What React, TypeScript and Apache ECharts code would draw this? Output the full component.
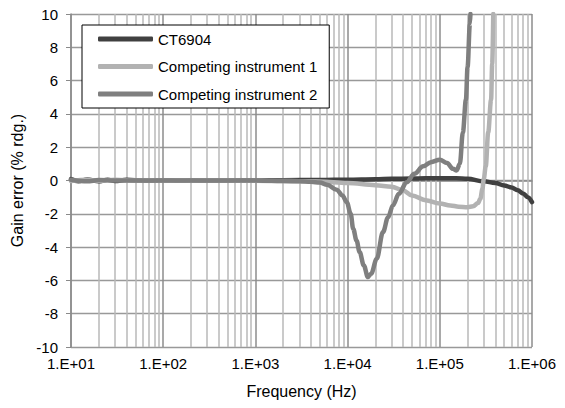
import React, { useEffect, useRef } from "react";
import * as echarts from "echarts";

const seriesNames = ["CT6904", "Competing instrument 1", "Competing instrument 2"];

const ct6904Freq = [10, 12, 15, 20, 25, 30, 40, 50, 70, 100, 150, 200, 300, 500, 1000, 2000, 5000, 1e4, 2e4, 3e4, 5e4, 1e5, 1.5e5, 2e5, 3e5, 4e5, 5e5, 6e5, 7e5, 8e5, 9e5, 1e6];
const ct6904Gain = [0.08, -0.04, 0.06, -0.05, 0.05, -0.03, 0.04, 0.02, -0.02, 0.02, 0.0, 0.01, 0.0, 0.0, 0.0, 0.02, 0.03, 0.05, 0.08, 0.1, 0.12, 0.14, 0.14, 0.1, -0.05, -0.15, -0.3, -0.42, -0.58, -0.78, -1.0, -1.3];

const comp1Freq = [10, 15, 20, 30, 50, 100, 200, 500, 1000, 2000, 3000, 5000, 1e4, 2e4, 3e4, 4e4, 5e4, 7e4, 1e5, 1.3e5, 1.6e5, 2e5, 2.3e5, 2.6e5, 2.75e5, 2.9e5, 3.0e5, 3.15e5, 3.35e5, 3.6e5, 3.7e5, 3.8e5];
const comp1Gain = [-0.03, 0.05, -0.02, 0.04, 0.0, 0.0, 0.0, 0.0, -0.02, -0.03, -0.04, -0.06, -0.15, -0.28, -0.37, -0.6, -0.9, -1.18, -1.38, -1.5, -1.57, -1.6, -1.55, -1.35, -1.1, -0.5, 0.1, 0.85, 2.9, 4.85, 7.0, 10];

const comp2Freq = [10, 15, 20, 30, 50, 100, 200, 500, 1000, 1500, 2000, 3000, 4000, 5000, 6000, 7600, 8800, 9800, 1.08e4, 1.15e4, 1.25e4, 1.35e4, 1.5e4, 1.66e4, 1.8e4, 2.07e4, 2.42e4, 2.75e4, 3.1e4, 3.6e4, 4.37e4, 5.3e4, 6.6e4, 8e4, 1e5, 1.2e5, 1.39e5, 1.52e5, 1.65e5, 1.78e5, 1.92e5, 2.0e5, 2.12e5, 2.15e5];
const comp2Gain = [0.05, -0.05, 0.03, 0.0, 0.0, 0.0, 0.0, 0.0, 0.0, -0.02, -0.03, -0.05, -0.08, -0.12, -0.25, -0.55, -0.9, -1.3, -2.0, -2.9, -3.6, -4.3, -5.1, -5.8, -5.6, -4.7, -3.1, -2.2, -1.5, -0.8, -0.1, 0.4, 0.85, 1.1, 1.25, 1.05, 0.7, 0.6, 1.0, 2.9, 4.85, 6.8, 9.4, 10];

const decades = [10, 100, 1000, 10000, 100000, 1000000];
const minorMultipliers = [2, 3, 4, 5, 6, 7, 8, 9];

const yMin = -10;
const yMax = 10;
const yInterval = 2;

const FONT = "'Liberation Sans', Arial, sans-serif";

function zip(xs: number[], ys: number[]) {
  return xs.map((x, i) => [x, ys[i]]);
}

export default function App() {
  const ref = useRef<HTMLDivElement>(null);

  useEffect(() => {
    if (!ref.current) return;
    const chart = echarts.init(ref.current, undefined, { renderer: "svg" });

    const minorLines: any[] = [];
    decades.slice(0, -1).forEach((d) => {
      minorMultipliers.forEach((m) => minorLines.push({ xAxis: d * m }));
    });
    const majorLines = decades.map((d) => ({ xAxis: d }));

    const lineSeries = (name: string, data: number[][], color: string) => ({
      name,
      type: "line",
      data,
      symbol: "none",
      smooth: 0.35,
      smoothMonotone: "x",
      z: 5,
      lineStyle: { color, width: 4.5, cap: "round", join: "round" },
      itemStyle: { color },
    });

    chart.setOption({
      animation: false,
      textStyle: { fontFamily: FONT },
      grid: { left: 71, right: 33, top: 14, bottom: 61, containLabel: false },
      legend: {
        data: seriesNames,
        orient: "vertical",
        left: 82,
        top: 25,
        padding: [4, 12, 4, 16],
        itemWidth: 55,
        itemHeight: 5,
        itemGap: 7.5,
        icon: "roundRect",
        borderColor: "#000",
        borderWidth: 1,
        borderRadius: 0,
        backgroundColor: "#fff",
        textStyle: { fontSize: 15, color: "#000", fontFamily: FONT, lineHeight: 20 },
        z: 10,
      },
      xAxis: {
        type: "log",
        logBase: 10,
        min: 10,
        max: 1e6,
        name: "Frequency (Hz)",
        nameLocation: "middle",
        nameGap: 36,
        nameTextStyle: { fontSize: 16, color: "#000", fontFamily: FONT },
        axisLine: { show: true, lineStyle: { color: "#8a8a8a", width: 1.5 } },
        axisTick: { show: false },
        splitLine: { show: false },
        axisLabel: {
          fontSize: 15,
          color: "#000",
          fontFamily: FONT,
          margin: 9,
          formatter: (v: number) => {
            const e = Math.round(Math.log10(v));
            return "1.E+" + String(e).padStart(2, "0");
          },
        },
      },
      yAxis: {
        type: "value",
        min: yMin,
        max: yMax,
        interval: yInterval,
        name: "Gain error (% rdg.)",
        nameLocation: "middle",
        nameGap: 44,
        nameTextStyle: { fontSize: 16, color: "#000", fontFamily: FONT },
        axisLine: { show: true, lineStyle: { color: "#8a8a8a", width: 1.5 } },
        axisTick: { show: true, inside: false, length: 5, lineStyle: { color: "#8a8a8a" } },
        splitLine: { show: true, lineStyle: { color: "#999999", width: 1.3 } },
        axisLabel: { fontSize: 15, color: "#000", fontFamily: FONT, margin: 13 },
      },
      series: [
        {
          name: "gridMinor",
          type: "line",
          data: [],
          z: 1,
          silent: true,
          markLine: {
            silent: true,
            symbol: "none",
            animation: false,
            label: { show: false },
            lineStyle: { color: "#b8b8b8", width: 1.5, type: "solid" },
            data: minorLines,
          },
        },
        {
          name: "gridMajor",
          type: "line",
          data: [],
          z: 2,
          silent: true,
          markLine: {
            silent: true,
            symbol: "none",
            animation: false,
            label: { show: false },
            lineStyle: { color: "#8c8c8c", width: 1.5, type: "solid" },
            data: majorLines,
          },
        },
        lineSeries(seriesNames[0], zip(ct6904Freq, ct6904Gain), "#404040"),
        lineSeries(seriesNames[1], zip(comp1Freq, comp1Gain), "#b2b2b2"),
        lineSeries(seriesNames[2], zip(comp2Freq, comp2Gain), "#7f7f7f"),
      ],
    });

    return () => chart.dispose();
  }, []);

  return <div ref={ref} style={{ width: 565, height: 408, position: "absolute", left: 0, top: 0 }} />;
}
